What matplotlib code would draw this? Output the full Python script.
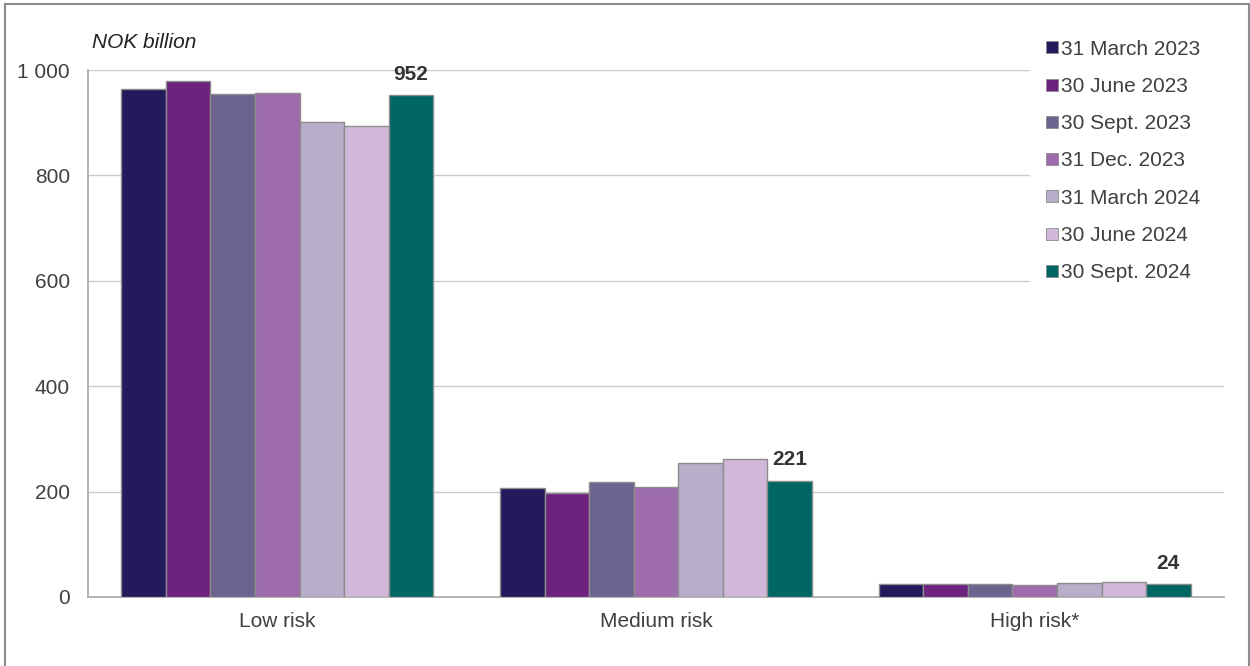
import matplotlib
matplotlib.use("Agg")
from matplotlib import pyplot as plt
from matplotlib.lines import Line2D
from matplotlib.patches import Rectangle
import numpy as np

plt.rcParams['font.family'] = ['Liberation Sans', 'DejaVu Sans']

# Datos
categories = ["Low risk", "Medium risk", "High risk*"]
series_names = ["31 March 2023", "30 June 2023", "30 Sept. 2023", "31 Dec. 2023",
                "31 March 2024", "30 June 2024", "30 Sept. 2024"]
mar23 = [963, 207, 25]
jun23 = [980, 197, 24]
sep23 = [954, 218, 24]
dec23 = [957, 209, 22]
mar24 = [901, 254, 26]
jun24 = [894, 261, 28]
sep24 = [952, 221, 24]
series_values = [mar23, jun23, sep23, dec23, mar24, jun24, sep24]
colors = ["#23195b", "#6d2280", "#6c638f", "#9e6cad", "#b8aec9", "#d1b8d8", "#006663"]
yticks = [0, 200, 400, 600, 800, 1000]
ytick_labels = ["0", "200", "400", "600", "800", "1 000"]

txt = "#404040"
fs = 15

fig = plt.figure(figsize=(12.5, 6.66), dpi=100)
ax = fig.add_axes([88/1250, 1-597/666, (1224-88)/1250, (597-70)/666])

x = np.arange(len(categories))
w = 0.1177
for i, vals in enumerate(series_values):
    ax.bar(x + (i-3)*w, vals, width=w, color=colors[i], edgecolor="#8c8c8c",
           linewidth=1, label=series_names[i], zorder=3)

# etiquetas de la última serie
for xi, v in zip(x, sep24):
    ax.annotate(str(v), (xi + 3*w, v), xytext=(0, 8), textcoords="offset points",
                ha="center", va="bottom", fontsize=fs, fontweight="bold", color="#333333")

ax.set_xlim(-0.5, 2.5)
ax.set_ylim(0, 1000)
ax.set_yticks(yticks)
ax.set_yticklabels(ytick_labels)
ax.set_xticks(x)
ax.set_xticklabels(categories)
ax.tick_params(axis="both", length=0, labelsize=fs, colors=txt)
ax.tick_params(axis="y", pad=13)
ax.tick_params(axis="x", pad=11)
ax.grid(axis="y", color="#cccccc", linewidth=1, zorder=0)
for s in ["top", "right"]:
    ax.spines[s].set_visible(False)
for s in ["left", "bottom"]:
    ax.spines[s].set_color("#a6a6a6")
    ax.spines[s].set_linewidth(1.2)

fig.text(92/1250, 1-43/666, "NOK billion", fontsize=fs, style="italic",
         color="#222222", ha="left", va="center")

# fondo blanco de la leyenda (tapa la rejilla)
fig.patches.append(Rectangle((1030/1250, 1-292/666), 196/1250, 262/666,
                             transform=fig.transFigure, facecolor="white",
                             edgecolor="none", zorder=1))

handles = [Line2D([], [], marker="s", linestyle="", markersize=8,
                  markerfacecolor=c, markeredgecolor="#8c8c8c", markeredgewidth=0.6)
           for c in colors]
leg = fig.legend(handles, series_names, loc="upper left",
                 bbox_to_anchor=(1030/1250, 1-23/666), fontsize=fs,
                 frameon=False,
                 handlelength=0.5, handletextpad=0.2, labelspacing=0.875,
                 borderpad=0.3)
for t in leg.get_texts():
    t.set_color(txt)

fig.patches.append(Rectangle((5/1250, -0.02), 1-6/1250, 1-4/666+0.02,
                             transform=fig.transFigure, fill=False,
                             edgecolor="#8c8c8c", linewidth=1.5, zorder=2))

fig.savefig("out.png", dpi=100)
